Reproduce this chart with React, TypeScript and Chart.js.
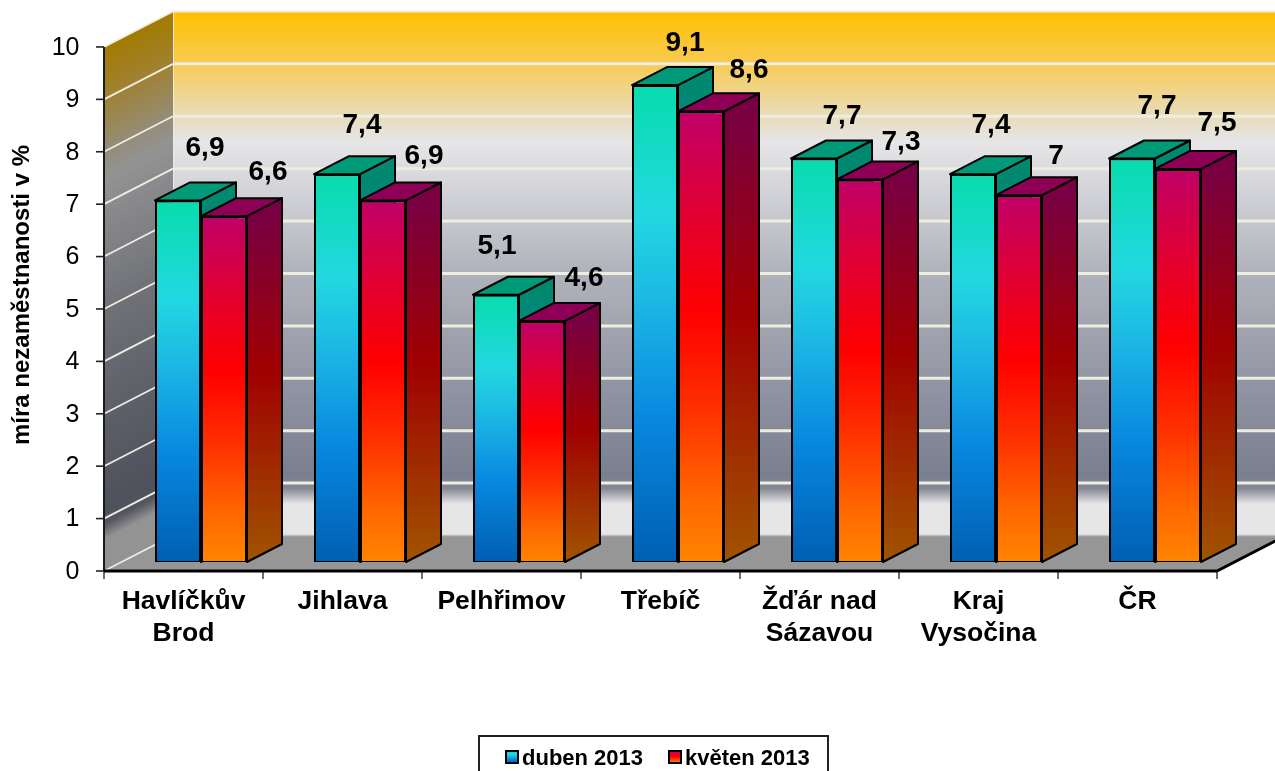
import React, { useEffect, useRef } from "react";
import { Chart, registerables } from "chart.js";

Chart.register(...registerables);

const categories = [["Havlíčkův", "Brod"], "Jihlava", "Pelhřimov", "Třebíč", ["Žďár nad", "Sázavou"], ["Kraj", "Vysočina"], "ČR"];
const seriesNames = ["duben 2013", "květen 2013"];
const dubenValues = [6.9, 7.4, 5.1, 9.1, 7.7, 7.4, 7.7];
const kvetenValues = [6.6, 6.9, 4.6, 8.6, 7.3, 7.0, 7.5];
const gridTicks = [0, 1, 2, 3, 4, 5, 6, 7, 8, 9, 10];

// Hand-placed data label nudges, as in the source chart
const labelNudgeX = [[27, 25, 1, 30, 28, 18, 25], [44, 41, 42, 48, 41, 37, 39]];
const labelNudgeY = [[52, 49, 48, 42, 42, 49, 52], [44, 44, 43, 41, 37, 39, 46]];

const FONT = '"Liberation Sans", Arial, sans-serif';
const PLANE = { dx: 17.5, dy: 9 };
const WALL = { dx: 51.5, dy: 26.5 };
const BAR_DEPTH = { dx: 35, dy: 18 };

type Stop = [number, string];
const wallStops: Stop[] = [
  [0, "#FFC000"], [0.09, "#F9CA4A"], [0.14, "#F2D27E"], [0.2, "#E9DCBC"], [0.25, "#E6E6E8"], [0.5, "#B0B2BB"],
  [0.75, "#8C8F9E"], [0.885, "#7A7F90"], [0.91, "#858795"], [0.94, "#E6E6E6"], [1, "#E6E6E6"],
];
const barStops: Stop[][] = [
  [[0, "#08DCAE"], [0.27, "#22D8E0"], [0.45, "#1CB8E4"], [0.7, "#0888E0"], [1, "#005FB2"]],
  [[0, "#C00068"], [0.25, "#E4002C"], [0.45, "#FF0000"], [0.66, "#FF3000"], [0.87, "#FF6A00"], [1, "#FF8400"]],
];
const sideStops: Stop[][] = [
  [[0, "#008870"], [0.3, "#108890"], [1, "#003C70"]],
  [[0, "#780042"], [0.45, "#A00000"], [1, "#A05400"]],
];
const topColors = ["#009A78", "#8E0055"];
const GRID = "#EFEDE0";

function fillGradient(ctx: CanvasRenderingContext2D, y0: number, y1: number, stops: Stop[]) {
  const g = ctx.createLinearGradient(0, y0, 0, y1);
  stops.forEach(([t, c]) => g.addColorStop(t, c));
  return g;
}

const walls3d = {
  id: "walls3d",
  beforeDraw(chart: any) {
    const { ctx, scales: { y }, chartArea, width } = chart;
    const fx0 = chartArea.left - PLANE.dx;
    const fx1 = chartArea.right - PLANE.dx;
    const front = (v: number) => y.getPixelForValue(v) + PLANE.dy;
    const back = (v: number) => y.getPixelForValue(v) - WALL.dy;
    const bx0 = chartArea.left + WALL.dx;
    const bx1 = chartArea.right + WALL.dx;
    const fullDx = PLANE.dx + WALL.dx;
    const fullDy = PLANE.dy + WALL.dy;
    const k = fullDy / fullDx;
    ctx.save();

    // back wall
    ctx.fillStyle = fillGradient(ctx, back(10), back(0), wallStops);
    ctx.fillRect(bx0, back(10), bx1 - bx0, back(0) - back(10));
    ctx.strokeStyle = "#EDEBE2";
    ctx.lineWidth = 2;
    ctx.beginPath();
    ctx.moveTo(bx0, back(0));
    ctx.lineTo(bx0, back(10));
    ctx.lineTo(width, back(10));
    ctx.stroke();

    // left wall: the same gradient, skewed and darkened
    ctx.save();
    ctx.beginPath();
    ctx.moveTo(fx0, front(10));
    ctx.lineTo(bx0, back(10));
    ctx.lineTo(bx0, back(0));
    ctx.lineTo(fx0, front(0));
    ctx.closePath();
    ctx.clip();
    ctx.transform(1, -k, 0, 1, 0, fx0 * k);
    ctx.fillStyle = fillGradient(ctx, front(10), front(0), wallStops);
    ctx.fillRect(fx0 - 5, -100, fullDx + 10, 1000);
    ctx.fillStyle = "rgba(0,0,0,0.36)";
    ctx.fillRect(fx0 - 5, -100, fullDx + 10, 1000);
    ctx.restore();

    // floor
    ctx.fillStyle = "#969696";
    ctx.beginPath();
    ctx.moveTo(fx0, front(0));
    ctx.lineTo(fx1, front(0));
    ctx.lineTo(bx1, back(0));
    ctx.lineTo(bx0, back(0));
    ctx.closePath();
    ctx.fill();

    // grid lines on both walls
    gridTicks.forEach((v) => {
      ctx.strokeStyle = GRID;
      ctx.lineWidth = v === 0 ? 1.5 : 3;
      if (v > 0 && v < 10) {
        ctx.beginPath();
        ctx.moveTo(bx0, back(v));
        ctx.lineTo(width, back(v));
        ctx.stroke();
      }
      if (v === 0) {
        ctx.strokeStyle = "#BDBDBD";
        ctx.beginPath();
        ctx.moveTo(bx0, back(0));
        ctx.lineTo(width, back(0));
        ctx.stroke();
        ctx.strokeStyle = GRID;
      }
      ctx.lineWidth = 1.8;
      ctx.beginPath();
      ctx.moveTo(fx0, front(v));
      ctx.lineTo(bx0, back(v));
      ctx.stroke();
    });

    // front axes and tick marks
    ctx.strokeStyle = "#6E6E6E";
    ctx.lineWidth = 2;
    for (let i = 0; i <= categories.length; i++) {
      const tx = fx0 + ((fx1 - fx0) * i) / categories.length;
      ctx.beginPath();
      ctx.moveTo(tx, front(0));
      ctx.lineTo(tx, front(0) + 8);
      ctx.stroke();
    }
    ctx.strokeStyle = "#222";
    ctx.lineWidth = 1.6;
    gridTicks.forEach((v) => {
      ctx.beginPath();
      ctx.moveTo(fx0 - 8, front(v));
      ctx.lineTo(fx0, front(v));
      ctx.stroke();
    });
    ctx.strokeStyle = "#1A1A1A";
    ctx.lineWidth = 2;
    ctx.beginPath();
    ctx.moveTo(fx0, front(10));
    ctx.lineTo(fx0, front(0));
    ctx.stroke();
    ctx.strokeStyle = "#000";
    ctx.lineWidth = 3;
    ctx.beginPath();
    ctx.moveTo(fx0, front(0));
    ctx.lineTo(fx1, front(0));
    ctx.lineTo(bx1, back(0));
    ctx.stroke();
    ctx.restore();
  },
  // Side and top faces of all bars go under the front faces, first series first.
  beforeDatasetsDraw(chart: any) {
    const { ctx } = chart;
    ctx.save();
    ctx.lineWidth = 2;
    ctx.strokeStyle = "#000";
    ctx.lineJoin = "round";
    [0, 1].forEach((i) => {
      chart.getDatasetMeta(i).data.forEach((bar: any) => {
        const { x, y, base, width: w } = bar.getProps(["x", "y", "base", "width"], true);
        const right = x + w / 2;
        const left = x - w / 2;
        ctx.fillStyle = fillGradient(ctx, y, base, sideStops[i]);
        ctx.beginPath();
        ctx.moveTo(right, y);
        ctx.lineTo(right + BAR_DEPTH.dx, y - BAR_DEPTH.dy);
        ctx.lineTo(right + BAR_DEPTH.dx, base - BAR_DEPTH.dy);
        ctx.lineTo(right, base);
        ctx.closePath();
        ctx.fill();
        ctx.stroke();
        ctx.fillStyle = topColors[i];
        ctx.beginPath();
        ctx.moveTo(left, y);
        ctx.lineTo(left + BAR_DEPTH.dx, y - BAR_DEPTH.dy);
        ctx.lineTo(right + BAR_DEPTH.dx, y - BAR_DEPTH.dy);
        ctx.lineTo(right, y);
        ctx.closePath();
        ctx.fill();
        ctx.stroke();
      });
    });
    ctx.restore();
  },
  afterDatasetsDraw(chart: any) {
    const { ctx } = chart;
    ctx.save();
    ctx.fillStyle = "#000";
    ctx.font = `bold 28px ${FONT}`;
    ctx.textAlign = "center";
    ctx.textBaseline = "middle";
    chart.data.datasets.forEach((ds: any, i: number) => {
      chart.getDatasetMeta(i).data.forEach((bar: any, j: number) => {
        const text = String(ds.data[j]).replace(".", ",");
        ctx.fillText(text, bar.x + labelNudgeX[i][j], bar.y - labelNudgeY[i][j]);
      });
    });

    // legend
    const boxX = 479, boxY = 736, boxW = 349;
    ctx.fillStyle = "#fff";
    ctx.strokeStyle = "#222";
    ctx.lineWidth = 2;
    ctx.fillRect(boxX, boxY, boxW, 60);
    ctx.strokeRect(boxX, boxY, boxW, 60);
    const swatchX = [506, 669];
    const textX = [522, 685];
    const midY = 757;
    ctx.font = `bold 22px ${FONT}`;
    ctx.textAlign = "left";
    seriesNames.forEach((name, i) => {
      ctx.fillStyle = fillGradient(ctx, midY - 6, midY + 6, barStops[i]);
      ctx.fillRect(swatchX[i], midY - 6, 12, 12);
      ctx.strokeStyle = "#000";
      ctx.lineWidth = 2;
      ctx.strokeRect(swatchX[i], midY - 6, 12, 12);
      ctx.fillStyle = "#000";
      ctx.fillText(name, textX[i], midY + 1.5);
    });
    ctx.restore();
  },
};

export default function App() {
  const ref = useRef<HTMLCanvasElement>(null);
  useEffect(() => {
    const barGradient = (i: number) => (c: any) => {
      const { ctx, scales, chartArea } = c.chart;
      if (!chartArea || !scales.y) return barStops[i][0][1];
      return fillGradient(ctx, scales.y.getPixelForValue(c.raw), scales.y.getPixelForValue(0), barStops[i]);
    };
    const chart = new Chart(ref.current!, {
      type: "bar",
      data: {
        labels: categories,
        datasets: [
          { label: seriesNames[0], data: dubenValues, backgroundColor: barGradient(0) },
          { label: seriesNames[1], data: kvetenValues, backgroundColor: barGradient(1) },
        ],
      },
      options: {
        responsive: false,
        animation: false,
        layout: { autoPadding: false, padding: { top: 28, right: 40.5, left: 0, bottom: 0 } },
        datasets: {
          bar: {
            categoryPercentage: 92 / 159,
            barPercentage: 1,
            borderColor: "#000",
            borderWidth: { top: 2, left: 2, right: 2, bottom: 1 },
            borderSkipped: false,
          },
        },
        plugins: { legend: { display: false }, tooltip: { enabled: false }, title: { display: false } },
        scales: {
          x: {
            grid: { display: false },
            border: { display: false },
            afterFit: (s: any) => { s.height = 209; },
            ticks: {
              color: "#000",
              autoSkip: false,
              maxRotation: 0,
              minRotation: 0,
              padding: 15.5,
              labelOffset: -PLANE.dx,
              font: { family: FONT, size: 26.5, weight: "bold", lineHeight: 1.22 },
            },
          },
          y: {
            min: 0,
            max: 10.19,
            bounds: "data",
            grid: { display: false },
            border: { display: false },
            afterFit: (s: any) => { s.width = 121.5; s.paddingTop = 0; s.paddingBottom = 0; },
            title: {
              display: true,
              text: "míra nezaměstnanosti v %",
              color: "#000",
              padding: { top: 7.5, bottom: 0 },
              font: { family: FONT, size: 24, weight: "bold" },
            },
            ticks: {
              stepSize: 1,
              includeBounds: false,
              color: "#000",
              padding: 34,
              labelOffset: PLANE.dy + 1,
              font: { family: FONT, size: 25 },
            },
          },
        },
      } as any,
      plugins: [walls3d],
    });
    return () => chart.destroy();
  }, []);
  return (
    <div style={{ position: "fixed", left: 0, top: 0, width: 1275, height: 771, overflow: "hidden", background: "#fff" }}>
      <canvas ref={ref} width={1275} height={771} style={{ display: "block" }} />
    </div>
  );
}
